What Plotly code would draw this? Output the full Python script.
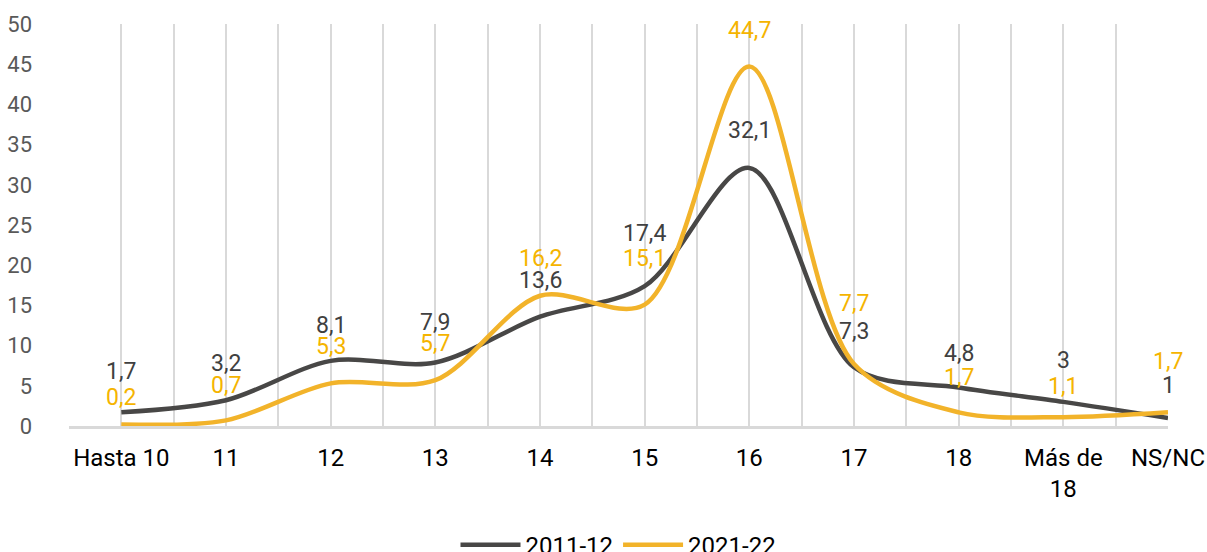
import plotly.graph_objects as go

categories = ["Hasta 10", "11", "12", "13", "14", "15", "16", "17", "18", "Más de<br>18", "NS/NC"]
serie_2011 = [1.7, 3.2, 8.1, 7.9, 13.6, 17.4, 32.1, 7.3, 4.8, 3, 1]
serie_2021 = [0.2, 0.7, 5.3, 5.7, 16.2, 15.1, 44.7, 7.7, 1.7, 1.1, 1.7]
labels_2011 = ["1,7", "3,2", "8,1", "7,9", "13,6", "17,4", "32,1", "7,3", "4,8", "3", "1"]
labels_2021 = ["0,2", "0,7", "5,3", "5,7", "16,2", "15,1", "44,7", "7,7", "1,7", "1,1", "1,7"]
y_ticks = [0, 5, 10, 15, 20, 25, 30, 35, 40, 45, 50]

# label offsets (px, upward) - styling only
shift_2011 = [41, 37, 35, 40, 36, 53, 37, 36, 34, 41, 32]
shift_2021 = [27, 35, 37, 37, 37, 46, 36, 61, 35, 31, 51]

DARK = "#484746"
YEL = "#F2B32A"
YEL_TXT = "#F5B400"
FONT = "Roboto"

xs = list(range(len(categories)))

fig = go.Figure()
fig.add_trace(go.Scatter(x=xs, y=serie_2011, mode="lines", name="2011-12",
                         line=dict(color=DARK, width=4.5, shape="spline", smoothing=0.9)))
fig.add_trace(go.Scatter(x=xs, y=serie_2021, mode="lines", name="2021-22",
                         line=dict(color=YEL, width=4.5, shape="spline", smoothing=0.9)))

for x, v, t, s in zip(xs, serie_2011, labels_2011, shift_2011):
    fig.add_annotation(x=x, y=v, text=t, showarrow=False, yshift=s,
                       font=dict(family=FONT, size=23, color="#404040"))
for x, v, t, s in zip(xs, serie_2021, labels_2021, shift_2021):
    fig.add_annotation(x=x, y=v, text=t, showarrow=False, yshift=s,
                       font=dict(family=FONT, size=23, color=YEL_TXT))

grid_vals = [i * 0.5 for i in range(0, 20)]

fig.update_layout(
    width=1207, height=552,
    margin=dict(l=69, r=39, t=24, b=126, autoexpand=False),
    paper_bgcolor="white", plot_bgcolor="white",
    font=dict(family=FONT, size=23, color="#000000"),
    showlegend=True,
    legend=dict(orientation="h", x=0.5, xanchor="center", y=-0.2405, yanchor="top",
                font=dict(family=FONT, size=24, color="#000000"),
                itemwidth=60, traceorder="normal"),
    xaxis=dict(
        range=[-0.5, 10], tickmode="array", tickvals=xs, ticktext=categories,
        showgrid=False, zeroline=False, showline=True, linecolor="#d9d9d9", linewidth=2.5,
        ticks="", tickfont=dict(family=FONT, size=24, color="#000000"),
        ticklabelstandoff=8, automargin=False,
        minor=dict(tickmode="array", tickvals=grid_vals, showgrid=True,
                   gridcolor="#d9d9d9", gridwidth=1.5, ticks=""),
    ),
    yaxis=dict(
        range=[0, 50], tickmode="array", tickvals=y_ticks,
        showgrid=False, zeroline=False, showline=False, ticks="",
        tickfont=dict(family=FONT, size=22, color="#595959"),
        ticklabelstandoff=36, automargin=False,
    ),
)

fig.write_html(
    "out.html",
    config={"displayModeBar": False},
    post_script="document.body.style.margin='0';document.body.style.overflow='hidden';",
)
